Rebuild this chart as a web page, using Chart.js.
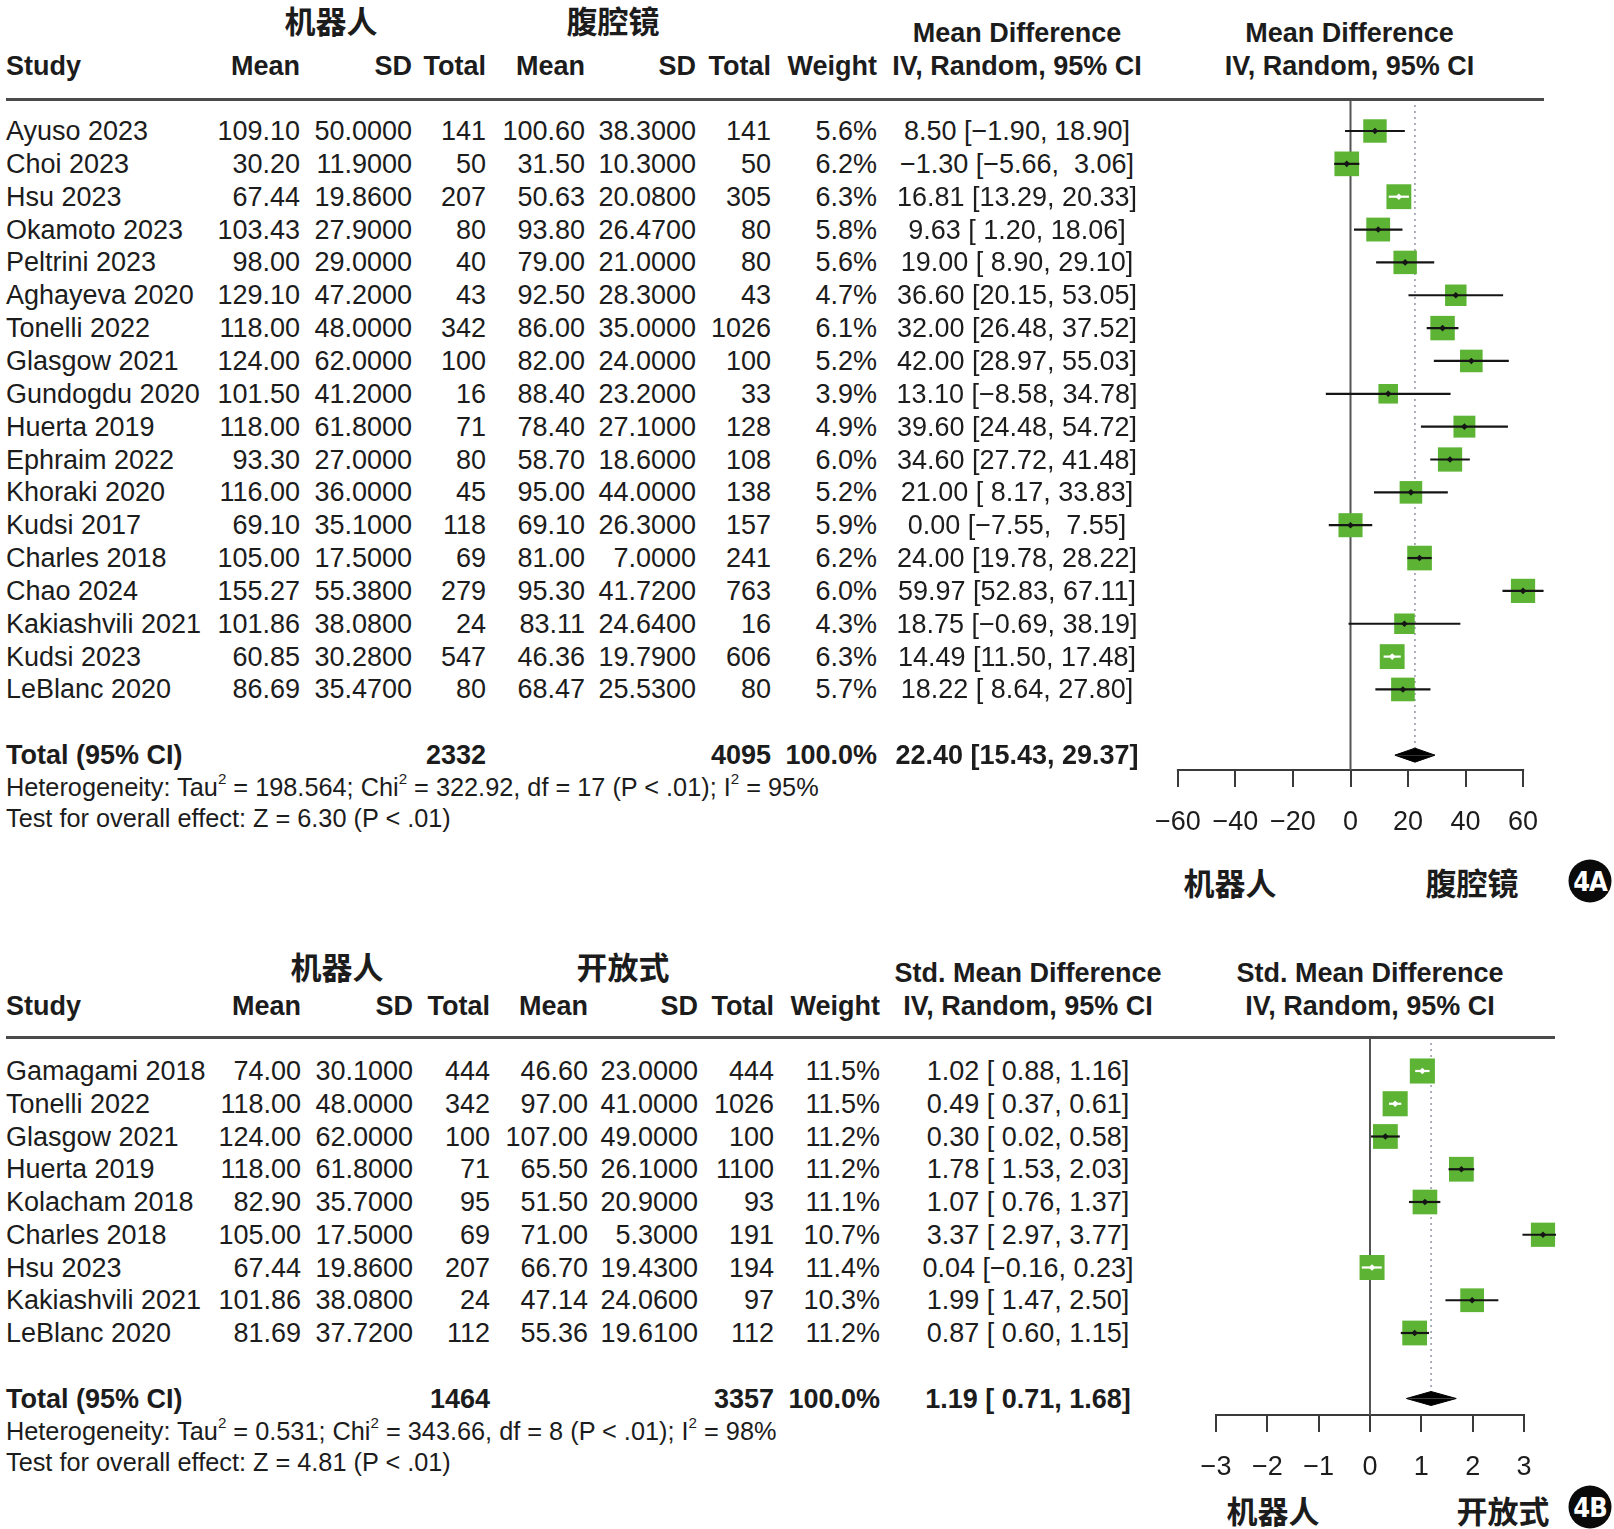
<!DOCTYPE html>
<html>
<head>
<meta charset="utf-8">
<script src="https://cdn.jsdelivr.net/npm/chart.js@4.4.1/dist/chart.umd.min.js"></script>
<style>
html,body{margin:0;padding:0;background:#fff;}
body{width:1614px;height:1529px;position:relative;overflow:hidden;font-family:"Liberation Sans",Arial,Helvetica,sans-serif;color:#1c1c1c;}
.t{position:absolute;white-space:pre;line-height:1;font-size:27px;}
.b{font-weight:bold;}
.cjk{font-family:"Noto Sans CJK SC",sans-serif;font-weight:bold;font-size:31px;}
.small{font-size:25.3px;}
.rule{position:absolute;height:3px;background:#4a4a4a;}
.cv{position:absolute;}
sup{font-size:0.6em;line-height:0;vertical-align:0.8em;}
.badge{position:absolute;width:43px;height:43px;border-radius:50%;background:#0a0a0a;color:#fff;
  font-family:"Liberation Sans Narrow","DejaVu Sans Condensed",sans-serif;font-stretch:condensed;font-weight:bold;
  font-size:27px;line-height:43px;text-align:center;letter-spacing:-1px;transform:translate(-50%,-50%);}
</style>
</head>
<body>
<div class="cv" id="wrapA"><canvas id="chartA"></canvas></div>
<div class="cv" id="wrapB"><canvas id="chartB"></canvas></div>
<script>
// ================= Panel 4A data (机器人 vs 腹腔镜) =================
const studiesA = ['Ayuso 2023','Choi 2023','Hsu 2023','Okamoto 2023','Peltrini 2023','Aghayeva 2020','Tonelli 2022','Glasgow 2021','Gundogdu 2020','Huerta 2019','Ephraim 2022','Khoraki 2020','Kudsi 2017','Charles 2018','Chao 2024','Kakiashvili 2021','Kudsi 2023','LeBlanc 2020'];
const robotMeanA = [109.10,30.20,67.44,103.43,98.00,129.10,118.00,124.00,101.50,118.00,93.30,116.00,69.10,105.00,155.27,101.86,60.85,86.69];
const robotSdA   = [50.0,11.9,19.86,27.9,29.0,47.2,48.0,62.0,41.2,61.8,27.0,36.0,35.1,17.5,55.38,38.08,30.28,35.47];
const robotNA    = [141,50,207,80,40,43,342,100,16,71,80,45,118,69,279,24,547,80];
const lapMeanA   = [100.60,31.50,50.63,93.80,79.00,92.50,86.00,82.00,88.40,78.40,58.70,95.00,69.10,81.00,95.30,83.11,46.36,68.47];
const lapSdA     = [38.3,10.3,20.08,26.47,21.0,28.3,35.0,24.0,23.2,27.1,18.6,44.0,26.3,7.0,41.72,24.64,19.79,25.53];
const lapNA      = [141,50,305,80,80,43,1026,100,33,128,108,138,157,241,763,16,606,80];
const weightA    = [5.6,6.2,6.3,5.8,5.6,4.7,6.1,5.2,3.9,4.9,6.0,5.2,5.9,6.2,6.0,4.3,6.3,5.7];
const mdA        = [8.50,-1.30,16.81,9.63,19.00,36.60,32.00,42.00,13.10,39.60,34.60,21.00,0.00,24.00,59.97,18.75,14.49,18.22];
const mdLowA     = [-1.90,-5.66,13.29,1.20,8.90,20.15,26.48,28.97,-8.58,24.48,27.72,8.17,-7.55,19.78,52.83,-0.69,11.50,8.64];
const mdHighA    = [18.90,3.06,20.33,18.06,29.10,53.05,37.52,55.03,34.78,54.72,41.48,33.83,7.55,28.22,67.11,38.19,17.48,27.80];
const totalsA    = [2332,4095];
const pooledA    = [22.40,15.43,29.37];
const ticksA     = [-60,-40,-20,0,20,40,60];
const hetA  = 'Heterogeneity: Tau<sup>2</sup> = 198.564; Chi<sup>2</sup> = 322.92, df = 17 (P &lt; .01); I<sup>2</sup> = 95%';
const testA = 'Test for overall effect: Z = 6.30 (P &lt; .01)';

// ================= Panel 4B data (机器人 vs 开放式) =================
const studiesB = ['Gamagami 2018','Tonelli 2022','Glasgow 2021','Huerta 2019','Kolacham 2018','Charles 2018','Hsu 2023','Kakiashvili 2021','LeBlanc 2020'];
const robotMeanB = [74.00,118.00,124.00,118.00,82.90,105.00,67.44,101.86,81.69];
const robotSdB   = [30.1,48.0,62.0,61.8,35.7,17.5,19.86,38.08,37.72];
const robotNB    = [444,342,100,71,95,69,207,24,112];
const openMeanB  = [46.60,97.00,107.00,65.50,51.50,71.00,66.70,47.14,55.36];
const openSdB    = [23.0,41.0,49.0,26.1,20.9,5.3,19.43,24.06,19.61];
const openNB     = [444,1026,100,1100,93,191,194,97,112];
const weightB    = [11.5,11.5,11.2,11.2,11.1,10.7,11.4,10.3,11.2];
const smdB       = [1.02,0.49,0.30,1.78,1.07,3.37,0.04,1.99,0.87];
const smdLowB    = [0.88,0.37,0.02,1.53,0.76,2.97,-0.16,1.47,0.60];
const smdHighB   = [1.16,0.61,0.58,2.03,1.37,3.77,0.23,2.50,1.15];
const totalsB    = [1464,3357];
const pooledB    = [1.19,0.71,1.68];
const ticksB     = [-3,-2,-1,0,1,2,3];
const hetB  = 'Heterogeneity: Tau<sup>2</sup> = 0.531; Chi<sup>2</sup> = 343.66, df = 8 (P &lt; .01); I<sup>2</sup> = 98%';
const testB = 'Test for overall effect: Z = 4.81 (P &lt; .01)';

// ================= helpers =================
function txt(x, y, s, cls, align, html) {
  const d = document.createElement('div');
  d.className = 't ' + (cls || '');
  if (html) d.innerHTML = s; else d.textContent = s;
  d.style.left = x + 'px';
  d.style.top = y + 'px';
  const tx = align === 'r' ? '-100%' : (align === 'c' ? '-50%' : '0');
  d.style.transform = 'translate(' + tx + ',-50%)';
  document.body.appendChild(d);
  return d;
}
function rule(x1, x2, y) {
  const d = document.createElement('div');
  d.className = 'rule';
  d.style.left = x1 + 'px'; d.style.width = (x2 - x1) + 'px'; d.style.top = (y - 1.5) + 'px';
  document.body.appendChild(d);
}
function badge(x, y, s) {
  const d = document.createElement('div');
  d.className = 'badge'; d.textContent = s;
  d.style.left = x + 'px'; d.style.top = y + 'px';
  document.body.appendChild(d);
}
const num = (v, d) => (v < 0 ? '\u2212' : '') + Math.abs(v).toFixed(d);
function ciStrings(est, lo, hi, pooled) {
  const allLo = lo.concat([pooled[1]]).map(v => num(v, 2));
  const allHi = hi.concat([pooled[2]]).map(v => num(v, 2));
  const wl = Math.max(...allLo.map(s => s.length));
  const wh = Math.max(...allHi.map(s => s.length));
  const allEst = est.concat([pooled[0]]).map(v => num(v, 2));
  return allEst.map((e, i) => e + ' [' + allLo[i].padStart(wl, ' ') + ', ' + allHi[i].padStart(wh, ' ') + ']');
}

function drawTable(p) {
  txt(p.cjkX[0], p.cjkY, p.groups[0], 'cjk', 'c');
  txt(p.cjkX[1], p.cjkY, p.groups[1], 'cjk', 'c');
  txt(p.col.ci, p.h1Y, p.effLabel, 'b', 'c');
  txt(p.zeroX, p.h1Y, p.effLabel, 'b', 'c');
  txt(p.col.study, p.h2Y, 'Study', 'b', 'l');
  txt(p.col.m1, p.h2Y, 'Mean', 'b', 'r');
  txt(p.col.sd1, p.h2Y, 'SD', 'b', 'r');
  txt(p.col.n1, p.h2Y, 'Total', 'b', 'r');
  txt(p.col.m2, p.h2Y, 'Mean', 'b', 'r');
  txt(p.col.sd2, p.h2Y, 'SD', 'b', 'r');
  txt(p.col.n2, p.h2Y, 'Total', 'b', 'r');
  txt(p.col.w, p.h2Y, 'Weight', 'b', 'r');
  txt(p.col.ci, p.h2Y, 'IV, Random, 95% CI', 'b', 'c');
  txt(p.zeroX, p.h2Y, 'IV, Random, 95% CI', 'b', 'c');
  rule(p.ruleX[0], p.ruleX[1], p.ruleY);
  const ci = ciStrings(p.est, p.lo, p.hi, p.pooled);
  for (let i = 0; i < p.studies.length; i++) {
    const y = p.row0 + i * p.step;
    txt(p.col.study, y, p.studies[i], '', 'l');
    txt(p.col.m1, y, p.m1[i].toFixed(2), '', 'r');
    txt(p.col.sd1, y, p.sd1[i].toFixed(4), '', 'r');
    txt(p.col.n1, y, String(p.n1[i]), '', 'r');
    txt(p.col.m2, y, p.m2[i].toFixed(2), '', 'r');
    txt(p.col.sd2, y, p.sd2[i].toFixed(4), '', 'r');
    txt(p.col.n2, y, String(p.n2[i]), '', 'r');
    txt(p.col.w, y, p.w[i].toFixed(1) + '%', '', 'r');
    txt(p.col.ci, y, ci[i], '', 'c');
  }
  const ty = p.row0 + p.totalRow * p.step;
  txt(p.col.study, ty, 'Total (95% CI)', 'b', 'l');
  txt(p.col.n1, ty, String(p.totals[0]), 'b', 'r');
  txt(p.col.n2, ty, String(p.totals[1]), 'b', 'r');
  txt(p.col.w, ty, '100.0%', 'b', 'r');
  txt(p.col.ci, ty, ci[ci.length - 1], 'b', 'c');
  txt(p.col.study, p.hetY, p.het, 'small', 'l', true);
  txt(p.col.study, p.testY, p.test, 'small', 'l', true);
  txt(p.favX[0], p.favY, p.groups[0], 'cjk', 'c');
  txt(p.favX[1], p.favY, p.groups[1], 'cjk', 'c');
  badge(p.badgeX, p.badgeY, p.badge);
}

function buildForest(wrapId, canvasId, p) {
  const padL = 40, padR = 20, padT = 10, axisH = 70;
  const wrap = document.getElementById(wrapId);
  wrap.style.left = (p.xPix[0] - padL) + 'px';
  wrap.style.width = (p.plotRight - p.xPix[0] + padL + padR) + 'px';
  wrap.style.top = (p.ruleY - padT) + 'px';
  wrap.style.height = (padT + (p.axisY - p.ruleY) + axisH) + 'px';
  const tMin = p.ticks[0], tMax = p.ticks[p.ticks.length - 1];
  const unitPx = (p.xPix[1] - p.xPix[0]) / (tMax - tMin);
  const xMax = tMin + (p.plotRight - p.xPix[0]) / unitPx;   // plot region reaches past the last tick
  const yMin = (p.ruleY - p.row0) / p.step;
  const yMax = (p.axisY - p.row0) / p.step;
  const dh = 7 / p.step;                 // half-height of pooled diamond (style)
  const green = '#5cb334';
  const axisCol = '#3a3a3a';
  const sideOf = i => p.sq * Math.sqrt(p.w[i]);
  const ciColor = (chart, i) => {
    const xs = chart.scales.x;
    const px = xs.getPixelForValue(p.hi[i]) - xs.getPixelForValue(p.lo[i]);
    return px > sideOf(i) - 1 ? '#151515' : '#ffffff';
  };
  const n = p.est.length;
  const ds = [];
  // axis line (between first and last tick only)
  ds.push({ type: 'scatter', showLine: true, data: [{x: tMin, y: yMax}, {x: tMax, y: yMax}],
    borderColor: axisCol, borderWidth: 2, borderCapStyle: 'square', pointRadius: 0, order: 10, clip: false });
  // line of no effect
  ds.push({ type: 'scatter', showLine: true, data: [{x: 0, y: yMin}, {x: 0, y: yMax}],
    borderColor: '#555', borderWidth: 2, pointRadius: 0, order: 9, clip: false });
  // pooled estimate dotted line
  ds.push({ type: 'scatter', showLine: true, data: [{x: p.pooled[0], y: yMin}, {x: p.pooled[0], y: p.totalRow - dh}],
    borderColor: '#9a9cab', borderWidth: 1.6, borderDash: [2, 4], pointRadius: 0, order: 8, clip: false });
  // study squares
  ds.push({ type: 'scatter', data: p.est.map((e, i) => ({x: e, y: i})), pointStyle: 'rect',
    pointRadius: ctx => sideOf(ctx.dataIndex) / Math.SQRT2, backgroundColor: green, borderColor: green,
    borderWidth: 0, order: 5, clip: false });
  // confidence intervals
  for (let i = 0; i < n; i++) {
    ds.push({ type: 'scatter', showLine: true, data: [{x: p.lo[i], y: i}, {x: p.hi[i], y: i}],
      borderColor: ctx => ciColor(ctx.chart, i), borderWidth: 2.2, pointRadius: 0, order: 2 });
  }
  // centre markers
  ds.push({ type: 'scatter', data: p.est.map((e, i) => ({x: e, y: i})), pointStyle: 'rectRot', pointRadius: 3.3,
    backgroundColor: ctx => ciColor(ctx.chart, ctx.dataIndex), borderWidth: 0, order: 1, clip: false });
  // pooled diamond (upper and lower halves)
  const [pe, pl, ph] = p.pooled;
  for (const s of [-1, 1]) {
    ds.push({ type: 'line', data: [{x: pl, y: p.totalRow}, {x: pe, y: p.totalRow + s * dh}, {x: ph, y: p.totalRow}],
      fill: {value: p.totalRow}, backgroundColor: '#000', borderColor: '#000', borderWidth: 1, pointRadius: 0,
      tension: 0, order: 3, clip: false });
  }
  return new Chart(document.getElementById(canvasId), {
    type: 'scatter',
    data: { datasets: ds },
    options: {
      responsive: true, maintainAspectRatio: false, animation: false, events: [],
      layout: { autoPadding: false, padding: { left: padL, right: padR, top: padT, bottom: 0 } },
      plugins: { legend: { display: false }, tooltip: { enabled: false } },
      scales: {
        x: {
          type: 'linear', min: tMin, max: xMax,
          afterBuildTicks: s => { s.ticks = p.ticks.map(v => ({ value: v })); },
          afterFit: s => { s.height = axisH; },
          grid: { display: true, drawOnChartArea: false, drawTicks: true, tickLength: 17, color: axisCol, lineWidth: 2 },
          border: { display: false },
          ticks: { padding: 19, color: '#1c1c1c', autoSkip: false, maxRotation: 0,
            font: { family: 'Liberation Sans', size: 27 },
            callback: v => (v < 0 ? '\u2212' + Math.abs(v) : String(v)) }
        },
        y: { type: 'linear', display: false, reverse: true, min: yMin, max: yMax }
      }
    }
  });
}

// ================= layout =================
const panelA = {
  studies: studiesA, m1: robotMeanA, sd1: robotSdA, n1: robotNA, m2: lapMeanA, sd2: lapSdA, n2: lapNA,
  w: weightA, est: mdA, lo: mdLowA, hi: mdHighA, totals: totalsA, pooled: pooledA, ticks: ticksA,
  het: hetA, test: testA, groups: ['机器人', '腹腔镜'], effLabel: 'Mean Difference', badge: '4A',
  col: { study: 6, m1: 300, sd1: 412, n1: 486, m2: 585, sd2: 696, n2: 771, w: 877, ci: 1017 },
  cjkX: [331, 613], cjkY: 19, h1Y: 33, h2Y: 66, ruleX: [6, 1544], ruleY: 99,
  row0: 131, step: 32.85, totalRow: 19, hetY: 788, testY: 819,
  xPix: [1176, 1523], plotRight: 1545, axisY: 770, zeroX: 1349.5, sq: 9.9,
  favX: [1230, 1472], favY: 881, badgeX: 1590, badgeY: 881
};
const panelB = {
  studies: studiesB, m1: robotMeanB, sd1: robotSdB, n1: robotNB, m2: openMeanB, sd2: openSdB, n2: openNB,
  w: weightB, est: smdB, lo: smdLowB, hi: smdHighB, totals: totalsB, pooled: pooledB, ticks: ticksB,
  het: hetB, test: testB, groups: ['机器人', '开放式'], effLabel: 'Std. Mean Difference', badge: '4B',
  col: { study: 6, m1: 301, sd1: 413, n1: 490, m2: 588, sd2: 698, n2: 774, w: 880, ci: 1028 },
  cjkX: [337, 623], cjkY: 965, h1Y: 973, h2Y: 1006, ruleX: [6, 1555], ruleY: 1037,
  row0: 1071, step: 32.75, totalRow: 10, hetY: 1432, testY: 1463,
  xPix: [1216, 1524], plotRight: 1556, axisY: 1415, zeroX: 1370, sq: 7.4,
  favX: [1273, 1503], favY: 1509, badgeX: 1590, badgeY: 1507
};

drawTable(panelA);
drawTable(panelB);
buildForest('wrapA', 'chartA', panelA);
buildForest('wrapB', 'chartB', panelB);
</script>
</body>
</html>
